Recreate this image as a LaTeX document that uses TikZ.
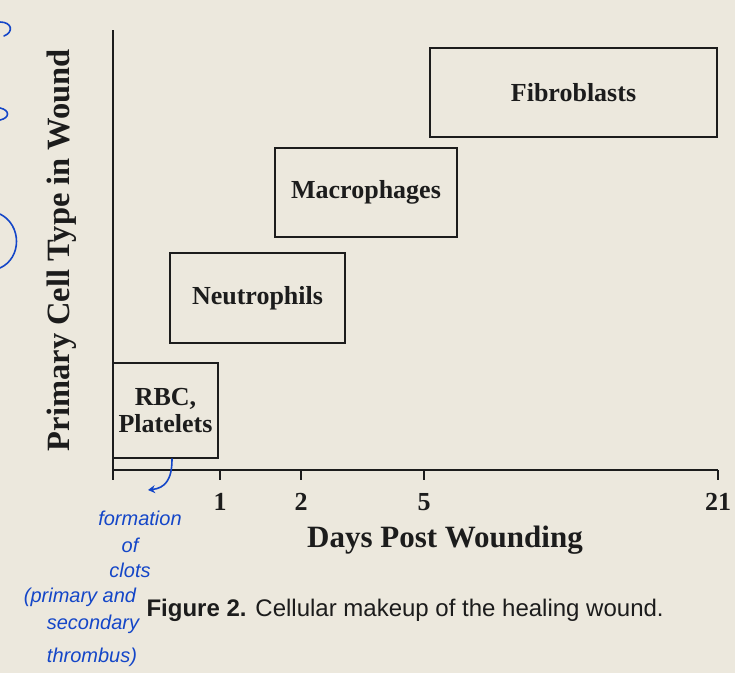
\documentclass[tikz,border=0pt]{standalone}
\usepackage{fontspec}
\setmainfont{Liberation Serif}
\newfontfamily\capfont{Liberation Sans}
\usepackage{tikz}
\usetikzlibrary{arrows.meta, positioning}
\definecolor{paper}{RGB}{236,232,221}
\definecolor{ink}{RGB}{28,28,28}
\definecolor{pen}{RGB}{20,70,200}

\begin{document}
\begin{tikzpicture}[x=1pt, y=-1pt,
                    cellbox/.style={draw=ink, line width=2.4pt, rectangle, align=center, inner sep=0pt,
                                    font=\bfseries\fontsize{26}{27}\selectfont, text=ink},
                    axis/.style={draw=ink, line width=2.4pt},
                    tick/.style={draw=ink, line width=2pt},
                    ticklabel/.style={font=\bfseries\fontsize{26}{28}\selectfont, text=ink},
                    axislabel/.style={font=\bfseries\fontsize{31}{33}\selectfont, text=ink},
                    note/.style={font=\capfont\itshape\fontsize{20}{22}\selectfont, text=pen, inner sep=0pt},
                    pen line/.style={draw=pen, line width=1.6pt, line cap=round}
                    ]

  % page of the book
  \fill[paper] (0,0) rectangle (735,673);
  \useasboundingbox (0,0) rectangle (735,673);

  % axes
  \coordinate (origin) at (113,470);
  \coordinate (ytop) at (113,30);
  \coordinate (xend) at (718,470);
  \draw[axis] (ytop) -- (origin) -- (xend);

  \foreach \xpos/\day in {113/, 220/1, 301/2, 424/5, 718/21} {
    \draw[tick] (\xpos,470) -- (\xpos,480);
    \node[ticklabel] at (\xpos,502) {\day};
  }

  \node[axislabel] (xlabel) at (445,540) {Days Post Wounding};
  \node[axislabel, font=\bfseries\fontsize{32.5}{34}\selectfont, rotate=90] (ylabel) at (62,250) {Primary Cell Type in Wound};

  % cell types
  \node[cellbox, minimum width=105pt, minimum height=95pt] (rbc) at (165.5,410.5) {RBC,\\Platelets};
  \node[cellbox, minimum width=175pt, minimum height=90pt] (neutro) at (257.5,298) {Neutrophils};
  \node[cellbox, minimum width=182pt, minimum height=89pt] (macro) at (366,192.5) {Macrophages};
  \node[cellbox, minimum width=287pt, minimum height=89pt] (fibro) at (573.5,92.5) {Fibroblasts};

  % caption
  \node[font=\capfont\fontsize{24}{26}\selectfont, text=ink, anchor=west] (caption) at (143,610)
    {\textbf{Figure 2.} Cellular makeup of the healing wound.};

  % handwritten notes
  \node[note] (n1) at (140,518) {formation};
  \node[note] (n2) at (130,545) {of};
  \node[note] (n3) at (130,570) {clots};
  \node[note] (n4) at (80,597) {(primary and};
  \node[note] (n5) at (93,624) {secondary};
  \node[note] (n6) at (92,657) {thrombus)};

  \coordinate (penstart) at (172,459);
  \coordinate (penend) at (148,490);
  \draw[pen line, -{Stealth[length=7pt, width=8pt]}] (penstart) .. controls (172,480) and (165,488) .. (penend);

  % marks at the page edge
  \draw[pen line] (0,22) .. controls (12,22) and (14,32) .. (4,36);
  \draw[pen line] (0,108) .. controls (10,110) and (10,118) .. (0,120);
  \draw[pen line] (0,214) .. controls (22,225) and (22,258) .. (0,268);

\end{tikzpicture}
\end{document}
